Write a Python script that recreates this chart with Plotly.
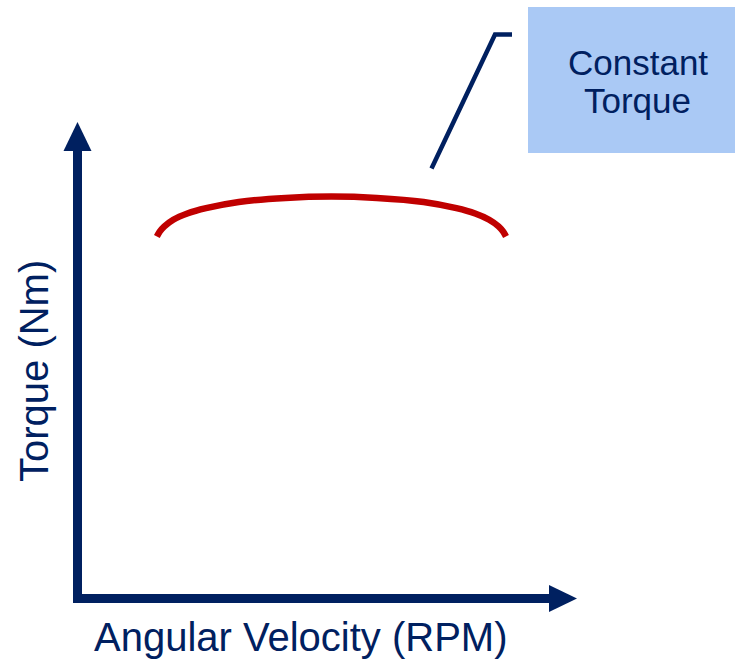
import plotly.graph_objects as go

# Torque curve: torque stays nearly constant across the speed range
rpm = [16, 16.6, 17.6, 19.5, 22.5, 26.5, 33.5, 43.5, 53.3, 63, 73, 80, 84, 87, 89, 90, 90.6]
torque = [80.5, 81.6, 82.8, 84.3, 85.7, 86.9, 88.3, 89.2, 89.5, 89.2, 88.3, 86.9, 85.7, 84.3, 82.8, 81.6, 80.5]

x_title = "Angular Velocity (RPM)"
y_title = "Torque (Nm)"
callout_lines = ["Constant", "Torque"]

NAVY = "#002060"
RED = "#C00000"
BOX = "#AAC9F5"
FONT = "Liberation Sans, Arial, sans-serif"

W, H = 735, 666
M_L, M_R, M_T, M_B = 82, 185, 150, 72
PLOT_W = W - M_L - M_R
PLOT_H = H - M_T - M_B


def px(xp):
    """Page x pixel -> paper fraction of the plot area."""
    return (xp - M_L) / PLOT_W


def py(yp):
    """Page y pixel -> paper fraction of the plot area."""
    return (H - M_B - yp) / PLOT_H


def poly(points):
    """Closed SVG path in paper fractions from page-pixel points."""
    parts = [f"{'M' if i == 0 else 'L'} {px(a):.5f},{py(b):.5f}" for i, (a, b) in enumerate(points)]
    return " ".join(parts) + " Z"


fig = go.Figure()
fig.add_trace(go.Scatter(
    x=rpm, y=torque, mode="lines",
    line=dict(color=RED, width=6.5, shape="spline", smoothing=0.8),
    hoverinfo="skip", showlegend=False,
))

axis_common = dict(
    range=[0, 100], showline=True, linecolor=NAVY, linewidth=9,
    showgrid=False, zeroline=False, showticklabels=False, ticks="",
    fixedrange=True,
)

shapes = [
    # arrowhead on the torque axis
    dict(type="path", xref="paper", yref="paper",
         path=poly([(63.5, 151), (91.5, 151), (77.5, 122)]),
         fillcolor=NAVY, line=dict(width=0)),
    # arrowhead on the speed axis
    dict(type="path", xref="paper", yref="paper",
         path=poly([(549, 585), (549, 612), (577, 598.5)]),
         fillcolor=NAVY, line=dict(width=0)),
    # callout box
    dict(type="rect", xref="paper", yref="paper",
         x0=px(528), x1=px(740), y0=py(153), y1=py(7),
         fillcolor=BOX, line=dict(width=0), layer="below"),
    # leader line from the curve to the callout
    dict(type="path", xref="paper", yref="paper",
         path=f"M {px(431.5)},{py(168.5)} L {px(495)},{py(34.5)} L {px(512)},{py(34.5)}",
         line=dict(color=NAVY, width=4.5)),
]

annotations = [
    dict(text=x_title, xref="paper", yref="paper", x=px(300), y=py(637),
         xanchor="center", yanchor="middle", showarrow=False,
         font=dict(family=FONT, size=40, color=NAVY)),
    dict(text=y_title, xref="paper", yref="paper", x=px(34), y=py(371),
         xanchor="center", yanchor="middle", textangle=-90, showarrow=False,
         font=dict(family=FONT, size=40, color=NAVY)),
    dict(text=callout_lines[0], xref="paper", yref="paper", x=px(637.5), y=py(62),
         xanchor="center", yanchor="middle", showarrow=False,
         font=dict(family=FONT, size=35, color=NAVY)),
    dict(text=callout_lines[1], xref="paper", yref="paper", x=px(637.5), y=py(101),
         xanchor="center", yanchor="middle", showarrow=False,
         font=dict(family=FONT, size=35, color=NAVY)),
]

fig.update_layout(
    width=W, height=H,
    margin=dict(l=M_L, r=M_R, t=M_T, b=M_B, pad=0, autoexpand=False),
    paper_bgcolor="white", plot_bgcolor="white",
    xaxis=axis_common, yaxis=axis_common,
    shapes=shapes, annotations=annotations,
    showlegend=False,
)

fig.write_html("out.html", config=dict(displayModeBar=False))
